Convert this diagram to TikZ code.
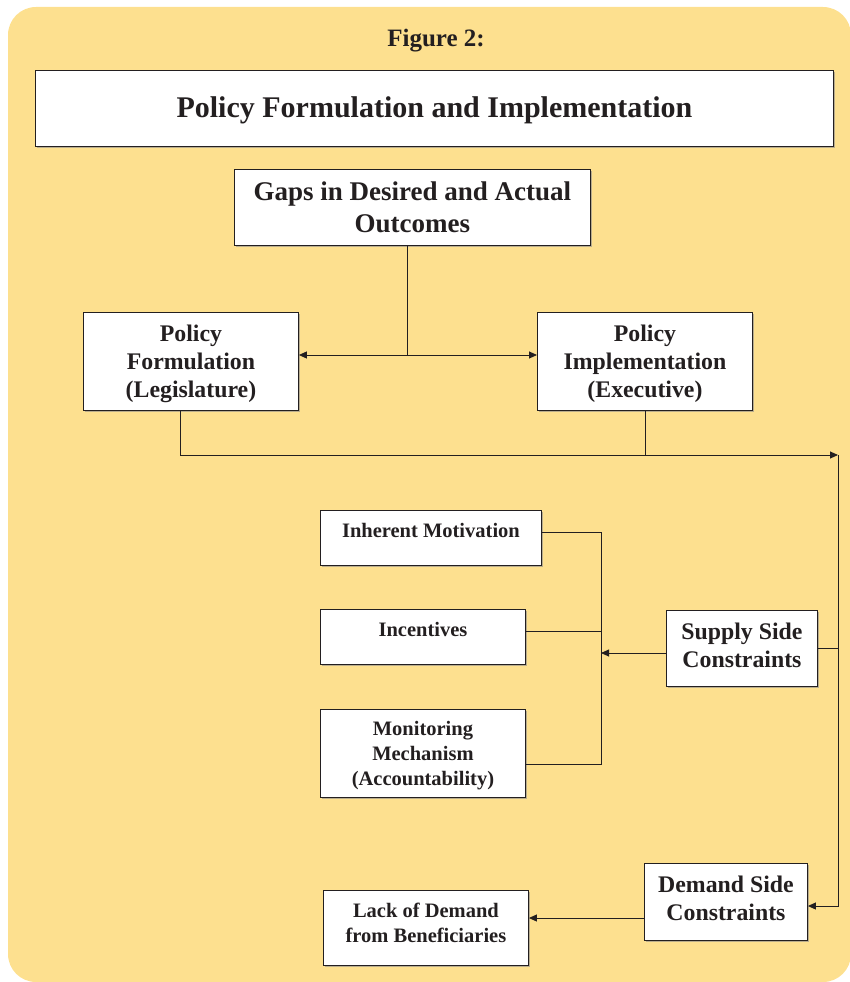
\documentclass[tikz,border=0pt]{standalone}
\usepackage{fontspec}
\setmainfont{Liberation Serif}
\usetikzlibrary{arrows.meta,shadows}
\definecolor{panel}{RGB}{253,224,143}
\definecolor{ink}{RGB}{35,31,32}
\tikzset{
  box/.style={draw=ink, line width=0.9pt, fill=white, align=center, inner sep=0pt,
    font=\bfseries, text=ink, anchor=north west,
    drop shadow={fill=black!45, shadow xshift=1.2pt, shadow yshift=-1.2pt, opacity=0.6}},
  link/.style={draw=ink, line width=0.9pt},
  arr/.style={link, -{Triangle[length=8pt, width=7pt]}},
  biarr/.style={link, {Triangle[length=8pt, width=7pt]}-{Triangle[length=8pt, width=7pt]}},
  big/.style={font=\bfseries\fontsize{23.8}{28}\selectfont},
  small/.style={font=\bfseries\fontsize{20.5}{25}\selectfont}
}
% shift a block of lines vertically, keeping its nominal size
\newcommand{\shiftlines}[2]{\raisebox{#1}[\height][\depth]{\begin{tabular}{@{}c@{}}#2\end{tabular}}}
\begin{document}
\begin{tikzpicture}[x=1pt, y=-1pt]
  \useasboundingbox (0,0) rectangle (850,982);
  % panel
  \fill[panel, rounded corners=28pt] (8,7) rectangle (851,982);

  \node[font=\bfseries\fontsize{25}{28}\selectfont, text=ink] (fig) at (436,41) {Figure 2:};

  % boxes
  \node[box, minimum width=798pt, minimum height=76pt, font=\bfseries\fontsize{30}{34}\selectfont]
    (title) at (35,70) {\shiftlines{-2pt}{Policy Formulation and Implementation}};
  \node[box, minimum width=356pt, minimum height=76pt, font=\bfseries\fontsize{27}{32}\selectfont]
    (gaps) at (234,169) {Gaps in Desired and Actual\\Outcomes};
  \node[box, big, minimum width=215pt, minimum height=98pt]
    (form) at (83,312) {\shiftlines{-2pt}{Policy\\Formulation\\(Legislature)}};
  \node[box, big, minimum width=215pt, minimum height=98pt]
    (impl) at (537,312) {\shiftlines{-2pt}{Policy\\Implementation\\(Executive)}};
  \node[box, small, minimum width=221pt, minimum height=55pt]
    (motiv) at (320,510) {\shiftlines{5pt}{Inherent Motivation}};
  \node[box, small, minimum width=205pt, minimum height=55pt]
    (incent) at (320,609) {\shiftlines{5pt}{Incentives}};
  \node[box, small, minimum width=205pt, minimum height=88pt]
    (monit) at (320,709) {\shiftlines{-2pt}{Monitoring\\Mechanism\\(Accountability)}};
  \node[box, big, minimum width=151pt, minimum height=76pt]
    (supply) at (666,610) {\shiftlines{1pt}{Supply Side\\Constraints}};
  \node[box, big, minimum width=163pt, minimum height=77pt]
    (demand) at (644,863) {\shiftlines{1pt}{Demand Side\\Constraints}};
  \node[box, small, minimum width=205pt, minimum height=75pt]
    (lack) at (323,890) {\shiftlines{3pt}{Lack of Demand\\from Beneficiaries}};

  % junction points
  \coordinate (split) at (407,355);
  \coordinate (base) at (180,455);
  \coordinate (corner) at (838,455);
  \coordinate (collect) at (601,653);

  % connectors
  \draw[link] (gaps.south -| split) -- (split);
  \draw[biarr] (form.east |- split) -- (impl.west |- split);
  \draw[link] (form.south -| base) -- (base);
  \draw[arr] (base) -- (corner);
  \draw[link] (impl.south -| 645,0) -- (645,455);
  \draw[arr] (corner) |- (demand.east |- 0,906);
  \draw[link] (supply.east) -- (supply.east -| corner);
  \draw[arr] (supply.west |- collect) -- (collect);
  \draw[link] (motiv.east |- 0,532) -| (collect);
  \draw[link] (monit.east |- 0,764) -| (collect);
  \draw[link] (incent.east |- 0,631) -- (collect |- 0,631);
  \draw[arr] (demand.west |- 0,918) -- (lack.east |- 0,918);
\end{tikzpicture}
\end{document}
